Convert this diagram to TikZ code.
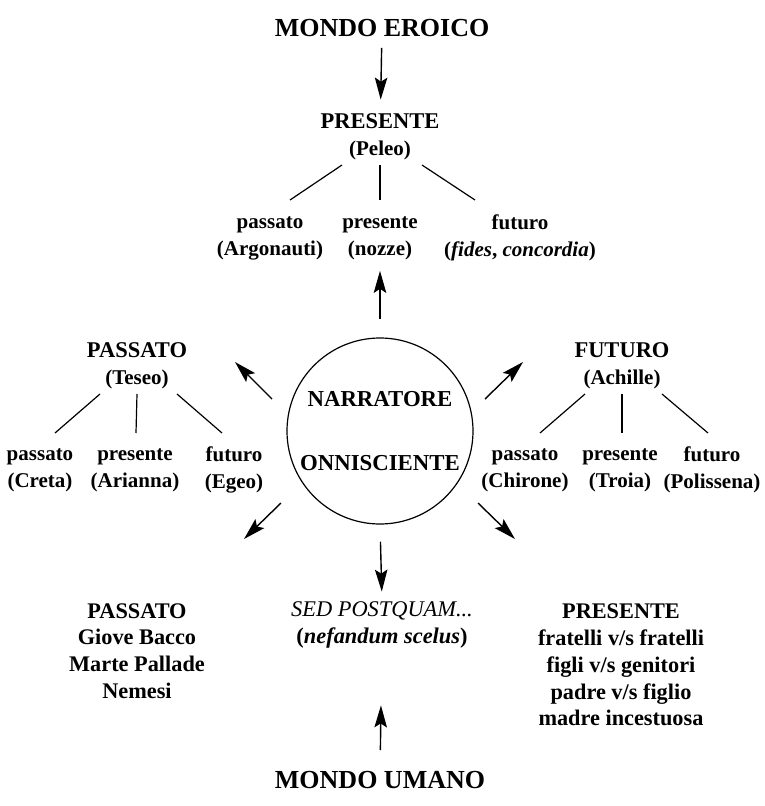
\documentclass[tikz,border=0pt]{standalone}
\usepackage{fontspec}
\setmainfont{Liberation Serif}
\usetikzlibrary{arrows.meta,calc}

\newcommand\hcaps[1]{{\fontsize{22.5}{27}\selectfont #1}}

\begin{document}
\begin{tikzpicture}[x=1pt,y=-1pt,
  lbl/.style={font=\fontsize{21}{27}\selectfont\bfseries,align=center,inner sep=2pt},
  low/.style={font=\fontsize{22.3}{26.8}\selectfont\bfseries,align=center,inner sep=2pt},
  title/.style={font=\fontsize{26}{30}\selectfont\bfseries,inner sep=2pt},
  arr/.style={-{Stealth[length=22pt,width=12.5pt,inset=4pt]},line width=1.4pt},
  twig/.style={line width=1.2pt}]

  \useasboundingbox (0,0) rectangle (765,806);

  % the two worlds
  \node[title] (eroico) at (382,28) {MONDO EROICO};
  \node[title] (umano) at (380,780) {MONDO UMANO};

  % narrator in the middle
  \node[lbl,draw,circle,line width=1.2pt,minimum size=186pt,font=\fontsize{22.8}{27}\selectfont\bfseries]
    (narr) at (380,431) {NARRATORE\\[37pt]ONNISCIENTE};

  % present (Peleo)
  \node[lbl] (pres) at (380,137) {\hcaps{PRESENTE}\\(Peleo)};
  \foreach \n/\x/\t in {p/270/{passato\\(Argonauti)}, n/380/{presente\\(nozze)},
      f/520/{futuro\\(\textit{fides}, \textit{concordia})}} {
    \node[lbl] (pres-\n) at (\x,238) {\t};
  };
  \foreach \n/\a/\b in {p/-38/20, n/0/0, f/42/-45} {
    \draw[twig] ($(pres)+(\a,28)$) -- ($(pres-\n)+(\b,-38)$);
  };

  % past (Teseo)
  \node[lbl] (pass) at (137,366) {\hcaps{PASSATO}\\(Teseo)};
  \foreach \n/\x/\t in {p/40/{passato\\(Creta)}, n/135/{presente\\(Arianna)},
      f/234/{futuro\\(Egeo)}} {
    \node[lbl] (pass-\n) at (\x,470) {\t};
  };
  \foreach \n/\a/\b in {p/-37/15, n/0/1, f/40/-12} {
    \draw[twig] ($(pass)+(\a,28)$) -- ($(pass-\n)+(\b,-37)$);
  };

  % future (Achille)
  \node[lbl] (fut) at (622,366) {\hcaps{FUTURO}\\(Achille)};
  \foreach \n/\x/\t in {p/525/{passato\\(Chirone)}, n/620/{presente\\(Troia)},
      f/712/{futuro\\(Polissena)}} {
    \node[lbl] (fut-\n) at (\x,470) {\t};
  };
  \foreach \n/\a/\b in {p/-37/15, n/0/2, f/40/-4} {
    \draw[twig] ($(fut)+(\a,28)$) -- ($(fut-\n)+(\b,-37)$);
  };

  % lower row
  \node[low] (bpass) at (137,651) {PASSATO\\Giove Bacco\\Marte Pallade\\Nemesi};
  \node[low,font=\fontsize{22.4}{26.8}\selectfont] (sed) at (382,625)
    {\textit{SED POSTQUAM...}\\\textbf{(\textit{nefandum scelus})}};
  \node[low] (bpres) at (621,665)
    {PRESENTE\\fratelli v/s fratelli\\figli v/s genitori\\padre v/s figlio\\madre incestuosa};

  % arrows
  \draw[arr,shorten <=9pt,shorten >=12pt] (eroico) -- (pres);
  \draw[arr,shorten <=18pt,shorten >=9pt] (narr.north) -- (pres-n.south);
  \draw[arr] ($(narr)+(-108,-32)$) -- ++(-37,-37);
  \draw[arr] ($(narr)+(105,-32)$) -- ++(38,-37);
  \draw[arr] ($(narr)+(-99,72)$) -- ++(-37,36);
  \draw[arr] ($(narr)+(98,72)$) -- ++(37,36);
  \draw[arr,shorten <=17pt,shorten >=8pt] (narr.south) -- (sed.north);
  \draw[arr,shorten <=19pt,shorten >=55pt] (umano) -- (sed);

\end{tikzpicture}
\end{document}
